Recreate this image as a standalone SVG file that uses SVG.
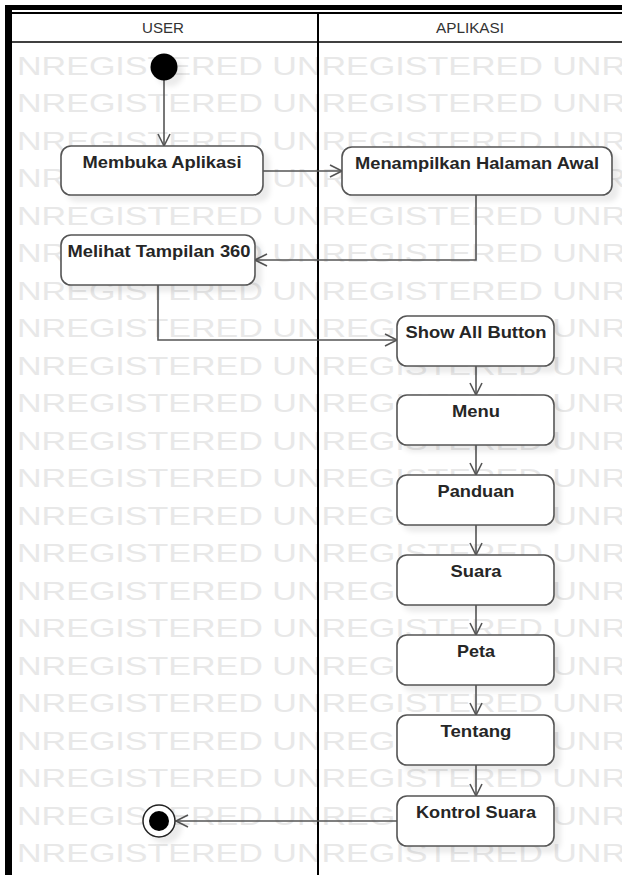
<svg xmlns="http://www.w3.org/2000/svg" width="622" height="875" viewBox="0 0 622 875">
<style>
.wm{font-family:"Liberation Sans",Arial,sans-serif;font-size:26px;fill:#e8e8e8}
.hdr{font-family:"Liberation Sans",Arial,sans-serif;font-size:14.5px;fill:#333;text-anchor:middle}
.node rect{fill:#fff;stroke:#555;stroke-width:1.6}
.node text{font-family:"Liberation Sans",Arial,sans-serif;font-weight:bold;font-size:16.5px;fill:#262626;text-anchor:middle}
.conn path{fill:none;stroke:#555;stroke-width:1.6}
</style>
<defs>
<filter id="sh" x="-20%" y="-20%" width="150%" height="160%">
<feDropShadow dx="6" dy="6" stdDeviation="2.5" flood-color="#000" flood-opacity="0.08"/>
</filter>
<marker id="arr" markerUnits="userSpaceOnUse" markerWidth="16" markerHeight="16" refX="14" refY="8" orient="auto">
<path d="M2,2 L14,8 L2,14" fill="none" stroke="#555" stroke-width="1.6"/>
</marker>
</defs>
<rect x="0" y="0" width="622" height="875" fill="#fff"/>
<g id="watermark" transform="scale(1.31 1)">
<text class="wm" x="13" y="75">NREGISTERED UNREGISTERED UNREGISTERED</text>
<text class="wm" x="13" y="112.5">NREGISTERED UNREGISTERED UNREGISTERED</text>
<text class="wm" x="13" y="150">NREGISTERED UNREGISTERED UNREGISTERED</text>
<text class="wm" x="13" y="187.5">NREGISTERED UNREGISTERED UNREGISTERED</text>
<text class="wm" x="13" y="225">NREGISTERED UNREGISTERED UNREGISTERED</text>
<text class="wm" x="13" y="262.5">NREGISTERED UNREGISTERED UNREGISTERED</text>
<text class="wm" x="13" y="300">NREGISTERED UNREGISTERED UNREGISTERED</text>
<text class="wm" x="13" y="337.5">NREGISTERED UNREGISTERED UNREGISTERED</text>
<text class="wm" x="13" y="375">NREGISTERED UNREGISTERED UNREGISTERED</text>
<text class="wm" x="13" y="412.5">NREGISTERED UNREGISTERED UNREGISTERED</text>
<text class="wm" x="13" y="450">NREGISTERED UNREGISTERED UNREGISTERED</text>
<text class="wm" x="13" y="487.5">NREGISTERED UNREGISTERED UNREGISTERED</text>
<text class="wm" x="13" y="525">NREGISTERED UNREGISTERED UNREGISTERED</text>
<text class="wm" x="13" y="562.5">NREGISTERED UNREGISTERED UNREGISTERED</text>
<text class="wm" x="13" y="600">NREGISTERED UNREGISTERED UNREGISTERED</text>
<text class="wm" x="13" y="637.5">NREGISTERED UNREGISTERED UNREGISTERED</text>
<text class="wm" x="13" y="675">NREGISTERED UNREGISTERED UNREGISTERED</text>
<text class="wm" x="13" y="712.5">NREGISTERED UNREGISTERED UNREGISTERED</text>
<text class="wm" x="13" y="750">NREGISTERED UNREGISTERED UNREGISTERED</text>
<text class="wm" x="13" y="787.5">NREGISTERED UNREGISTERED UNREGISTERED</text>
<text class="wm" x="13" y="825">NREGISTERED UNREGISTERED UNREGISTERED</text>
<text class="wm" x="13" y="862.5">NREGISTERED UNREGISTERED UNREGISTERED</text>
</g>
<g id="frame">
<rect x="12" y="13" width="610" height="29" fill="#fff"/>
<rect x="5" y="5" width="617" height="5" fill="#000"/>
<rect x="5" y="5" width="7" height="870" fill="#000"/>
<line x1="12" y1="13" x2="622" y2="13" stroke="#000" stroke-width="2"/>
<line x1="12" y1="42" x2="622" y2="42" stroke="#000" stroke-width="1.5"/>
<line x1="318" y1="13" x2="318" y2="875" stroke="#000" stroke-width="2"/>
<text class="hdr" x="163" y="33" textLength="42" lengthAdjust="spacingAndGlyphs">USER</text>
<text class="hdr" x="470" y="33" textLength="68" lengthAdjust="spacingAndGlyphs">APLIKASI</text>
</g>
<g id="connectors" class="conn">
<path d="M164,80 L164,146" marker-end="url(#arr)"/>
<path d="M263,171 L342,171" marker-end="url(#arr)"/>
<path d="M476,195 L476,260 L255,260" marker-end="url(#arr)"/>
<path d="M158,285 L158,340 L397,340" marker-end="url(#arr)"/>
<path d="M476,366 L476,395" marker-end="url(#arr)"/>
<path d="M476,445 L476,475" marker-end="url(#arr)"/>
<path d="M476,525 L476,555" marker-end="url(#arr)"/>
<path d="M476,605 L476,635" marker-end="url(#arr)"/>
<path d="M476,685 L476,715" marker-end="url(#arr)"/>
<path d="M476,765 L476,796" marker-end="url(#arr)"/>
<path d="M397,821 L176,821" marker-end="url(#arr)"/>
</g>
<g id="start">
<circle cx="164" cy="67" r="13.5" fill="#000" filter="url(#sh)"/>
</g>
<g id="membuka" class="node">
<rect x="61" y="146" width="202" height="49" rx="10" filter="url(#sh)"/>
<text x="162" y="168" textLength="159" lengthAdjust="spacingAndGlyphs">Membuka Aplikasi</text>
</g>
<g id="menampilkan" class="node">
<rect x="342" y="147" width="270" height="48" rx="10" filter="url(#sh)"/>
<text x="477" y="169" textLength="244" lengthAdjust="spacingAndGlyphs">Menampilkan Halaman Awal</text>
</g>
<g id="melihat" class="node">
<rect x="61" y="235" width="194" height="50" rx="10" filter="url(#sh)"/>
<text x="159" y="257" textLength="183" lengthAdjust="spacingAndGlyphs">Melihat Tampilan 360</text>
</g>
<g id="showall" class="node">
<rect x="397" y="316" width="157" height="50" rx="10" filter="url(#sh)"/>
<text x="476" y="338" textLength="141" lengthAdjust="spacingAndGlyphs">Show All Button</text>
</g>
<g id="menu" class="node">
<rect x="397" y="395" width="157" height="50" rx="10" filter="url(#sh)"/>
<text x="476" y="417" textLength="48" lengthAdjust="spacingAndGlyphs">Menu</text>
</g>
<g id="panduan" class="node">
<rect x="397" y="475" width="157" height="50" rx="10" filter="url(#sh)"/>
<text x="476" y="497" textLength="77" lengthAdjust="spacingAndGlyphs">Panduan</text>
</g>
<g id="suara" class="node">
<rect x="397" y="555" width="157" height="50" rx="10" filter="url(#sh)"/>
<text x="476" y="577" textLength="51" lengthAdjust="spacingAndGlyphs">Suara</text>
</g>
<g id="peta" class="node">
<rect x="397" y="635" width="157" height="50" rx="10" filter="url(#sh)"/>
<text x="476" y="657" textLength="38" lengthAdjust="spacingAndGlyphs">Peta</text>
</g>
<g id="tentang" class="node">
<rect x="397" y="715" width="157" height="50" rx="10" filter="url(#sh)"/>
<text x="476" y="737" textLength="71" lengthAdjust="spacingAndGlyphs">Tentang</text>
</g>
<g id="kontrol" class="node">
<rect x="397" y="796" width="157" height="50" rx="10" filter="url(#sh)"/>
<text x="476" y="818" textLength="120" lengthAdjust="spacingAndGlyphs">Kontrol Suara</text>
</g>
<g id="end">
<circle cx="159" cy="821" r="16" fill="#fff" stroke="#222" stroke-width="1.5" filter="url(#sh)"/>
<circle cx="159" cy="821" r="10" fill="#000"/>
</g>
</svg>
